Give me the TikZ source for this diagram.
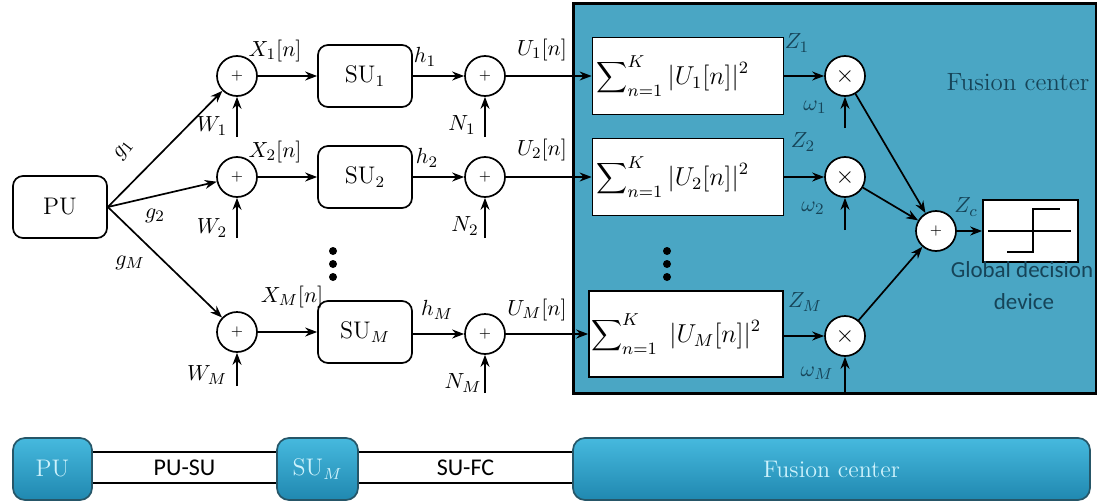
\documentclass[tikz,border=0pt]{standalone}
\usepackage{fontspec}
\newfontfamily\cali{Carlito}
\usetikzlibrary{arrows.meta}
\definecolor{fcblue}{RGB}{74,166,196}
\definecolor{fctext}{RGB}{22,68,88}
\definecolor{bartop}{RGB}{70,185,222}
\definecolor{barbot}{RGB}{32,136,176}
\definecolor{baredge}{RGB}{38,86,104}
\definecolor{bartext}{RGB}{205,242,252}
\newcommand{\sumU}[1]{\scalebox{1.08}{$\displaystyle\sum\nolimits_{n=1}^{K}#1$}}
\begin{document}
\begin{tikzpicture}[x=0.5pt,y=-0.5pt,line width=0.85pt,
  >={Stealth[length=6pt,width=4.5pt]},
  addc/.style={circle,draw,fill=white,minimum size=20pt,inner sep=0pt,font=\scriptsize},
  mulc/.style={circle,draw,fill=white,minimum size=20pt,inner sep=0pt,font=\large},
  subox/.style={draw,rounded corners=5pt,minimum width=47pt,minimum height=31pt,inner sep=0pt,font=\fontsize{12}{14}\selectfont},
  ebox/.style={draw,fill=white,minimum width=95.5pt,minimum height=38.5pt,inner sep=0pt},
  sumtxt/.style={anchor=west,inner sep=0pt,font=\fontsize{12}{14}\selectfont},
  lbl/.style={inner sep=1pt,font=\fontsize{11}{13}\selectfont},
  flbl/.style={lbl,text=fctext},
  bbox/.style={draw=baredge,rounded corners=6pt,top color=bartop,bottom color=barbot,minimum height=31pt,inner sep=0pt,text=bartext,font=\fontsize{12}{14}\selectfont},
  wbar/.style={draw,fill=white,minimum height=15.5pt,inner sep=0pt,font=\cali\fontsize{12}{14}\selectfont},
  dot/.style={circle,fill,inner sep=0pt,minimum size=4pt}]
\useasboundingbox (0,0) rectangle (1097,503);

% fusion center background
\draw[line width=1.5pt,fill=fcblue] (573,3) rectangle (1096,393);
\node[text=fctext,font=\fontsize{12.5}{15}\selectfont] (fctitle) at (1018,82) {Fusion center};

% nodes
\node[subox] (pu) at (60,207) {PU};
\node[addc] (a1) at (237,76) {+};
\node[addc] (a2) at (237,177) {+};
\node[addc] (aM) at (237,332) {+};
\node[subox] (s1) at (365,76) {SU$_1$};
\node[subox] (s2) at (365,177) {SU$_2$};
\node[subox] (sM) at (365,332) {SU$_M$};
\node[addc] (n1) at (485,76) {+};
\node[addc] (n2) at (485,177) {+};
\node[addc] (nM) at (485,334) {+};
\node[ebox] (e1) at (688,76) {};
\node[ebox] (e2) at (688,177) {};
\node[ebox,minimum width=97pt,minimum height=43pt] (eM) at (686,334) {};
\node[sumtxt] (t1) at ([xshift=2pt]e1.west) {\sumU{|U_1[n]|^2}};
\node[sumtxt] (t2) at ([xshift=2pt]e2.west) {\sumU{|U_2[n]|^2}};
\node[sumtxt] (tM) at ([xshift=1pt]eM.west) {\sumU{\;|U_M[n]|^2}};
\node[mulc] (m1) at (845,76) {$\times$};
\node[mulc] (m2) at (845,177) {$\times$};
\node[mulc] (mM) at (845,336) {$\times$};
\node[addc] (fa) at (936,231) {+};
\node[draw,fill=white,minimum width=47.5pt,minimum height=31pt,inner sep=0pt] (db) at (1030.5,231) {};
\draw[line width=0.9pt] (988,231) -- (1071,231);
\draw[line width=0.9pt] (1007,252) -- (1033,252) -- (1033,209) -- (1060,209);
\node[text=fctext,font=\cali\fontsize{11.5}{14}\selectfont,inner sep=0pt] (gd1) at (1022,270) {Global decision};
\node[text=fctext,font=\cali\fontsize{11.5}{14}\selectfont,inner sep=0pt] (gd2) at (1024,302) {device};

% input coordinates
\coordinate (w1) at (237,137);
\coordinate (w2) at (237,238);
\coordinate (wM) at (237,386);
\coordinate (nn1) at (485,137);
\coordinate (nn2) at (485,238);
\coordinate (nnM) at (485,393);
\coordinate (o1) at (845,128);
\coordinate (o2) at (845,230);
\coordinate (oM) at (845,393);

% connectors
\draw[->] (pu.east) -- (a1);
\draw[->] (pu.east) -- (a2);
\draw[->] (pu.east) -- (aM);
\foreach \r in {1,2,M}{
  \draw[->] (a\r) -- (s\r);
  \draw[->] (s\r.east |- n\r) -- (n\r);
  \draw[->] (n\r) -- (e\r.west |- n\r);
  \draw[->] (e\r.east |- m\r) -- (m\r);
  \draw[->] (w\r) -- (a\r.south);
  \draw[->] (nn\r) -- (n\r.south);
  \draw[->] (o\r) -- (m\r.south);
  \draw[->] (m\r) -- (fa);
}
\draw[->] (fa) -- (db);

% labels
\node[lbl,rotate=52] (g1) at (124,150) {$g_1$};
\node[lbl] (g2) at (155,216) {$g_2$};
\node[lbl] (gM) at (130,263) {$g_M$};
\node[lbl] (lx1) at (275,51) {$X_1[n]$};
\node[lbl] (lx2) at (275,152) {$X_2[n]$};
\node[lbl] (lxM) at (292,297) {$X_M[n]$};
\node[lbl] (lw1) at (212,126) {$W_1$};
\node[lbl] (lw2) at (212,228) {$W_2$};
\node[lbl] (lwM) at (207,375) {$W_M$};
\node[lbl] (lh1) at (425,57) {$h_1$};
\node[lbl] (lh2) at (427,158) {$h_2$};
\node[lbl] (lhM) at (437,310) {$h_M$};
\node[lbl] (ln1) at (462,125) {$N_1$};
\node[lbl] (ln2) at (465,226) {$N_2$};
\node[lbl] (lnM) at (463,383) {$N_M$};
\node[lbl] (lu1) at (542,50) {$U_1[n]$};
\node[lbl] (lu2) at (542,150) {$U_2[n]$};
\node[lbl] (luM) at (537,310) {$U_M[n]$};
\node[flbl] (lz1) at (797,43) {$Z_1$};
\node[flbl] (lz2) at (803,142) {$Z_2$};
\node[flbl] (lzM) at (805,302) {$Z_M$};
\node[flbl] (lo1) at (815,107) {$\omega_1$};
\node[flbl] (lo2) at (813,208) {$\omega_2$};
\node[flbl] (loM) at (817,373) {$\omega_M$};
\node[flbl] (lzc) at (966,207) {$Z_c$};

% dots
\foreach \y [count=\i] in {251,264,277}{
  \node[dot] (dl\i) at (333,\y) {};
  \node[dot] (dr\i) at (667,\y) {};
}

% bottom bar
\node[wbar,minimum width=92.5pt] (bar1) at (184.5,467.5) {PU-SU};
\node[wbar,minimum width=107.5pt] (bar2) at (465.5,467.5) {SU-FC};
\node[bbox,minimum width=39.5pt] (bpu) at (52.5,469) {PU};
\node[bbox,minimum width=40.5pt] (bsu) at (317.5,469) {SU$_M$};
\node[bbox,minimum width=258.5pt] (bfc) at (831.5,469) {Fusion center};
\end{tikzpicture}
\end{document}
